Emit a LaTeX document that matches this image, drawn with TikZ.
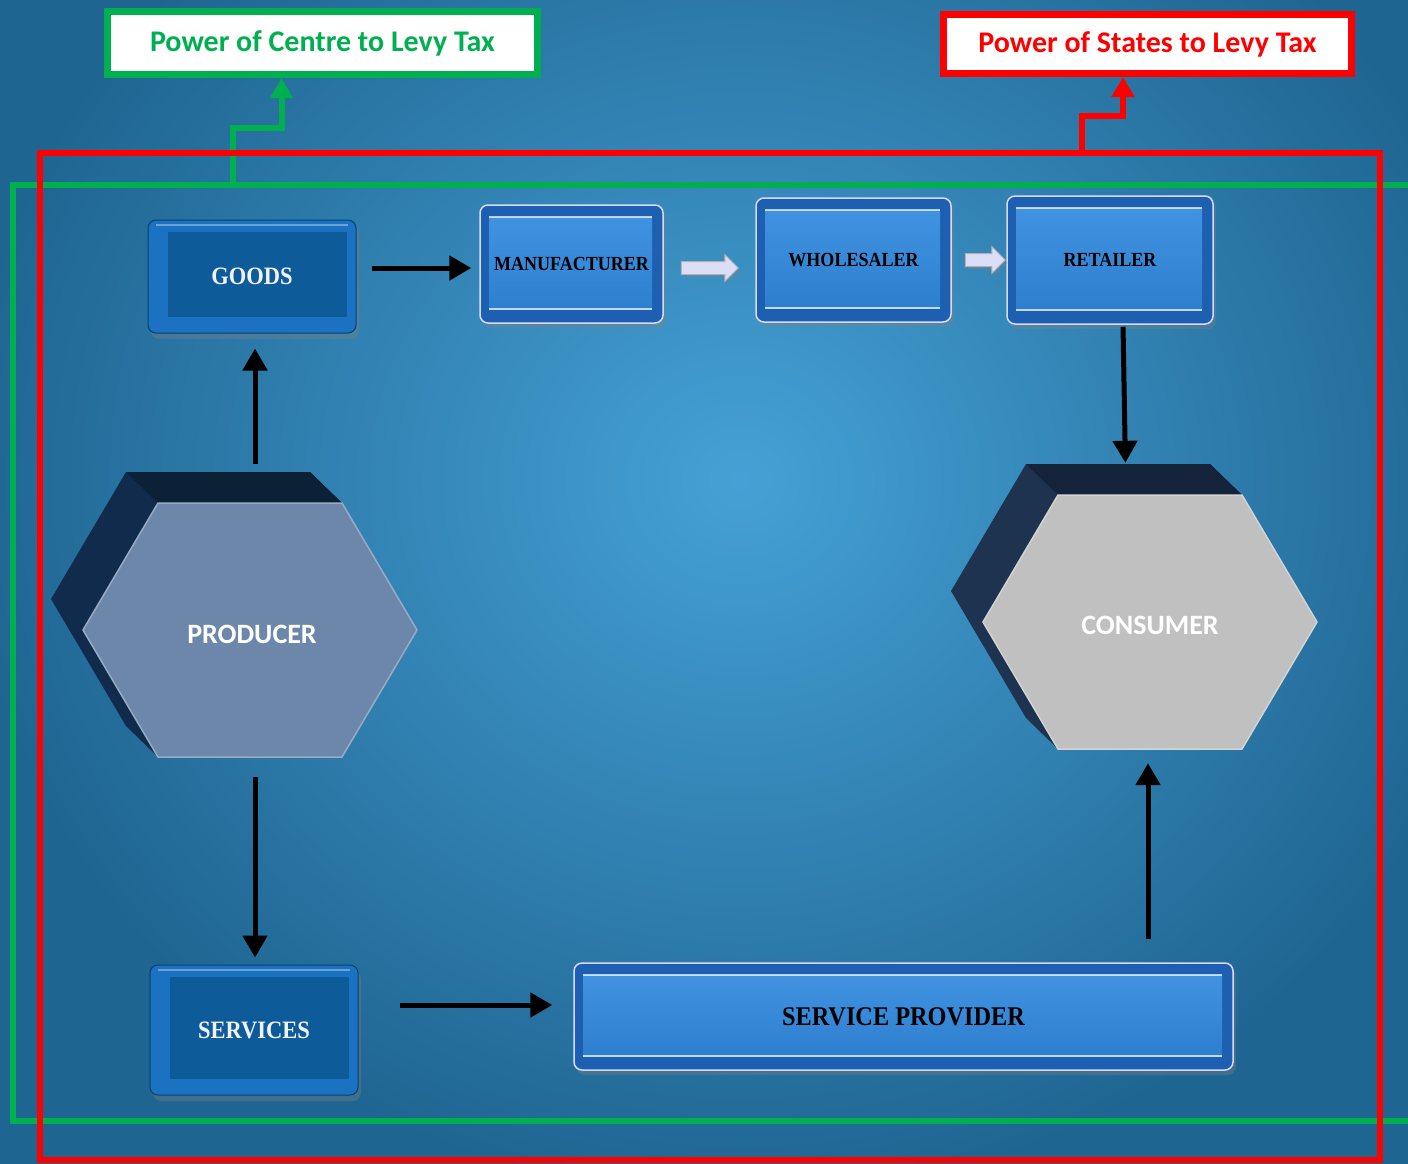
\documentclass[tikz,border=0pt]{standalone}
\usepackage{fontspec}
\setmainfont{Liberation Serif}
\newfontfamily\calfont{Carlito}
\newfontfamily\btnfont[FakeStretch=0.9]{Liberation Serif}
\usetikzlibrary{arrows.meta,shadows,shapes.arrows,calc}

\definecolor{bgmid}{HTML}{45A1D5}
\definecolor{bgedge}{HTML}{1F6592}
\definecolor{taxgreen}{HTML}{00B050}
\definecolor{taxred}{HTML}{FF0000}
\definecolor{darkface}{HTML}{0E5B9A}
\definecolor{darkrim}{HTML}{1C72C2}
\definecolor{brightface}{HTML}{2F8AE2}
\definecolor{brightrim}{HTML}{1D5FB0}
\definecolor{prodfront}{HTML}{6D87AB}
\definecolor{prodside}{HTML}{112B4D}
\definecolor{prodtop}{HTML}{0C2036}
\definecolor{consfront}{HTML}{C0C0C0}
\definecolor{consside}{HTML}{1E3350}
\definecolor{constop}{HTML}{14233A}
\definecolor{arrowfill}{HTML}{DCDDF6}

\tikzset{
  taxbox/.style={draw=#1, line width=7pt, fill=white, text=#1, inner sep=0pt,
    font=\calfont\bfseries\fontsize{30}{34}\selectfont},
  frameline/.style={draw=#1, line width=6pt, inner sep=0pt},
  taxarrow/.style={draw=#1, line width=6pt, -{Triangle[length=20pt,width=22pt]}},
  flow/.style={line width=5pt, -{Triangle[length=22pt,width=24pt]}},
  darkbtn/.style={draw=darkface!70!black, line width=1pt, fill=darkrim, rounded corners=8pt,
    text=blue!5!white, inner sep=0pt, font=\btnfont\bfseries\fontsize{25}{29}\selectfont,
    drop shadow={shadow xshift=3pt, shadow yshift=-6pt, opacity=.35},
    path picture={
      \fill[darkface, sharp corners] ([xshift=20pt,yshift=-12pt]path picture bounding box.north west)
        rectangle ([xshift=-9pt,yshift=16pt]path picture bounding box.south east);
      \draw[white, opacity=.35, line width=2pt, sharp corners]
        ([xshift=8pt,yshift=-5pt]path picture bounding box.north west)
        -- ([xshift=-8pt,yshift=-5pt]path picture bounding box.north east);
    }},
  brightbtn/.style={draw=blue!15!white, line width=1.5pt, fill=brightrim, rounded corners=8pt,
    text=black, inner sep=0pt, font=\btnfont\bfseries\fontsize{20}{23}\selectfont,
    drop shadow={shadow xshift=3pt, shadow yshift=-5pt, opacity=.35},
    path picture={
      \shade[top color=brightface!90!white, bottom color=brightface!90!black, sharp corners]
        ([xshift=9pt,yshift=-12pt]path picture bounding box.north west)
        rectangle ([xshift=-11pt,yshift=14pt]path picture bounding box.south east);
      \draw[white, opacity=.7, line width=2pt, sharp corners]
        ([xshift=9pt,yshift=-12pt]path picture bounding box.north west)
        -- ([xshift=-11pt,yshift=-12pt]path picture bounding box.north east)
        ([xshift=9pt,yshift=14pt]path picture bounding box.south west)
        -- ([xshift=-11pt,yshift=14pt]path picture bounding box.south east);
    }},
  hexlabel/.style={minimum width=334pt, minimum height=254pt, inner sep=0pt, text=white,
    font=\calfont\bfseries\fontsize{28}{32}\selectfont},
  hollowarrow/.style={single arrow, draw=gray!60, fill=arrowfill, line width=1pt,
    inner xsep=0pt, inner ysep=6pt, single arrow head extend=7pt, minimum width=27pt,
    drop shadow={shadow xshift=2pt, shadow yshift=-3pt, opacity=.3}}
}

% hexagon with depth: centre, front, side, top
\newcommand{\hexprism}[4]{%
  \begin{scope}[shift={(#1)}]
    \fill[#3] (-124,96) -- (-199,-31) -- (-124,-158) -- (60,-158) -- (92,-127)
      -- (167,0) -- (92,127) -- (-92,127) -- cycle;
    \fill[#4] (-124,-158) -- (60,-158) -- (92,-127) -- (-92,-127) -- cycle;
    \filldraw[fill=#2, draw=#2!70!white, line width=1.5pt]
      (-167,0) -- (-92,-127) -- (92,-127) -- (167,0) -- (92,127) -- (-92,127) -- cycle;
  \end{scope}}

\begin{document}
\begin{tikzpicture}[x=1pt,y=-1pt]

\useasboundingbox (0,0) rectangle (1408,1163);
\shade[inner color=bgmid, outer color=bgedge] (-40,-240) rectangle (1520,1200);

% tax boxes
\node[taxbox=taxgreen, minimum width=430pt, minimum height=63pt] (centre) at (322.5,43) {Power of Centre to Levy Tax};
\node[taxbox=taxred, minimum width=408pt, minimum height=59pt] (states) at (1147.5,44) {Power of States to Levy Tax};

\node[frameline=taxgreen, minimum width=1407pt, minimum height=936pt] (centreframe) at (716.5,653) {};
\draw[taxarrow=taxgreen] ([xshift=223pt]centreframe.north west)
  |- ([xshift=-41pt,yshift=-50pt]centre.south) -- ([xshift=-41pt]centre.south);

\node[frameline=taxred, minimum width=1340pt, minimum height=1007pt] (statesframe) at (710,656.5) {};
\draw[taxarrow=taxred] ([xshift=1045pt]statesframe.north west)
  |- ([xshift=-24.5pt,yshift=-39pt]states.south) -- ([xshift=-24.5pt]states.south);

% boxes
\node[darkbtn, minimum width=208pt, minimum height=113pt] (goods) at (252,276.5) {GOODS};
\node[brightbtn, minimum width=183pt, minimum height=118pt] (manuf) at (571.5,264) {MANUFACTURER};
\node[brightbtn, minimum width=195pt, minimum height=124pt] (wholesaler) at (853.5,260) {WHOLESALER};
\node[brightbtn, minimum width=206pt, minimum height=128pt] (retailer) at (1110,260) {RETAILER};
\node[darkbtn, minimum width=208pt, minimum height=130pt] (services) at (254,1030) {SERVICES};
\node[brightbtn, minimum width=659pt, minimum height=107pt, font=\btnfont\bfseries\fontsize{27}{30}\selectfont]
  (provider) at (903.5,1016.5) {SERVICE PROVIDER};

\hexprism{250,630}{prodfront}{prodside}{prodtop}
\node[hexlabel] (producer) at (252,634) {PRODUCER};
\hexprism{1150,622}{consfront}{consside}{constop}
\node[hexlabel] (consumer) at (1150,625) {CONSUMER};

% arrows
\draw[flow, shorten <=15pt, shorten >=8pt] ([yshift=-4pt]goods.east |- manuf.west) -- ([yshift=-4pt]manuf.west);
\node[hollowarrow, minimum height=57pt] (gap1) at ($(manuf.east)!.5!(wholesaler.west)+(-3,6)$) {};
\node[hollowarrow, minimum height=40pt] (gap2) at ($(wholesaler.east)!.5!(retailer.west)+(3,0)$) {};
\draw[flow, shorten <=2pt, shorten >=35pt] ([xshift=13pt]retailer.south) -- ([xshift=-24pt]consumer.north);
\draw[flow, shorten <=43pt, shorten >=15pt] ([xshift=3pt]producer.north) -- ([xshift=3pt]producer.north |- goods.south);
\draw[flow, shorten <=16pt, shorten >=7pt] ([xshift=3pt]producer.south) -- ([xshift=3pt]producer.south |- services.north);
\draw[flow, shorten <=41pt, shorten >=21pt] ([yshift=25pt]services.east) -- ([yshift=25pt]services.east -| provider.west);
\draw[flow, shorten <=23pt, shorten >=11pt] ([xshift=-2pt]provider.north -| consumer.south) -- ([xshift=-2pt]consumer.south);

\end{tikzpicture}
\end{document}
